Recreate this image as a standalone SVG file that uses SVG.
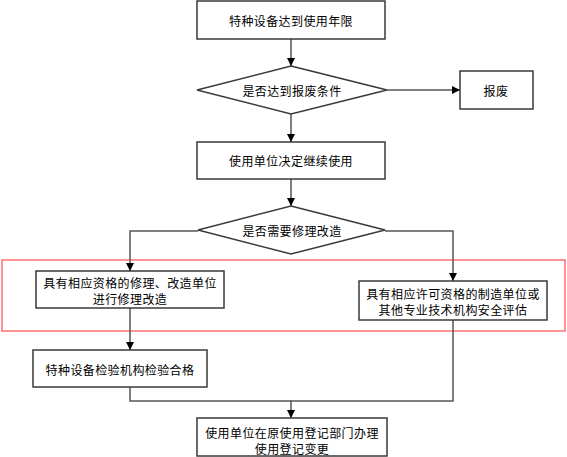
<svg xmlns="http://www.w3.org/2000/svg" width="567" height="457" viewBox="0 0 567 457">
<style>
.n{fill:#fff;stroke:#3a3a3a;stroke-width:1.5}
.t{font-family:"Noto Sans CJK SC","Noto Sans",sans-serif;font-size:12px;fill:#000;text-anchor:middle;dominant-baseline:central;letter-spacing:0.4px}
.c{fill:none;stroke:#555;stroke-width:1.5}
.r{fill:none;stroke:#ff7070;stroke-width:1.5}
</style>
<defs>
<marker id="a" markerWidth="8" markerHeight="8" refX="8" refY="4" orient="auto" markerUnits="userSpaceOnUse">
<path d="M0,0 L8,4 L0,8 Z" fill="#000"/>
</marker>
</defs>
<rect class="r" x="2" y="260" width="563" height="71"/>
<g id="connectors">
<path class="c" d="M291,39 V66" marker-end="url(#a)"/>
<path class="c" d="M387,90 H460" marker-end="url(#a)"/>
<path class="c" d="M291,114 V142" marker-end="url(#a)"/>
<path class="c" d="M291,179 V206" marker-end="url(#a)"/>
<path class="c" d="M198,231 H130 V271" marker-end="url(#a)"/>
<path class="c" d="M385,231 H453 V281" marker-end="url(#a)"/>
<path class="c" d="M130,308 V350" marker-end="url(#a)"/>
<path class="c" d="M130,387 V401 H291"/>
<path class="c" d="M453,320 V401 H291 V418" marker-end="url(#a)"/>
</g>
<g id="n1"><rect class="n" x="197" y="1" width="188" height="38"/><text class="t" x="291" y="20">特种设备达到使用年限</text></g>
<g id="n2"><polygon class="n" points="291,66 387,90 291,114 197,90"/><text class="t" x="292" y="90">是否达到报废条件</text></g>
<g id="n3"><rect class="n" x="460" y="71" width="73" height="38"/><text class="t" x="496" y="90">报废</text></g>
<g id="n4"><rect class="n" x="197" y="142" width="188" height="37"/><text class="t" x="291" y="160">使用单位决定继续使用</text></g>
<g id="n5"><polygon class="n" points="291,206 385,230 291,254 198,230"/><text class="t" x="292" y="230">是否需要修理改造</text></g>
<g id="n6"><rect class="n" x="36" y="271" width="188" height="37"/><text class="t" x="130" y="282">具有相应资格的修理、改造单位</text><text class="t" x="130" y="298">进行修理改造</text></g>
<g id="n7"><rect class="n" x="359" y="281" width="188" height="39"/><text class="t" x="453" y="293">具有相应许可资格的制造单位或</text><text class="t" x="453" y="309">其他专业技术机构安全评估</text></g>
<g id="n8"><rect class="n" x="33" y="350" width="174" height="37"/><text class="t" x="120" y="369">特种设备检验机构检验合格</text></g>
<g id="n9"><rect class="n" x="197" y="418" width="190" height="38"/><text class="t" x="292" y="432">使用单位在原使用登记部门办理</text><text class="t" x="292" y="448">使用登记变更</text></g>
</svg>
